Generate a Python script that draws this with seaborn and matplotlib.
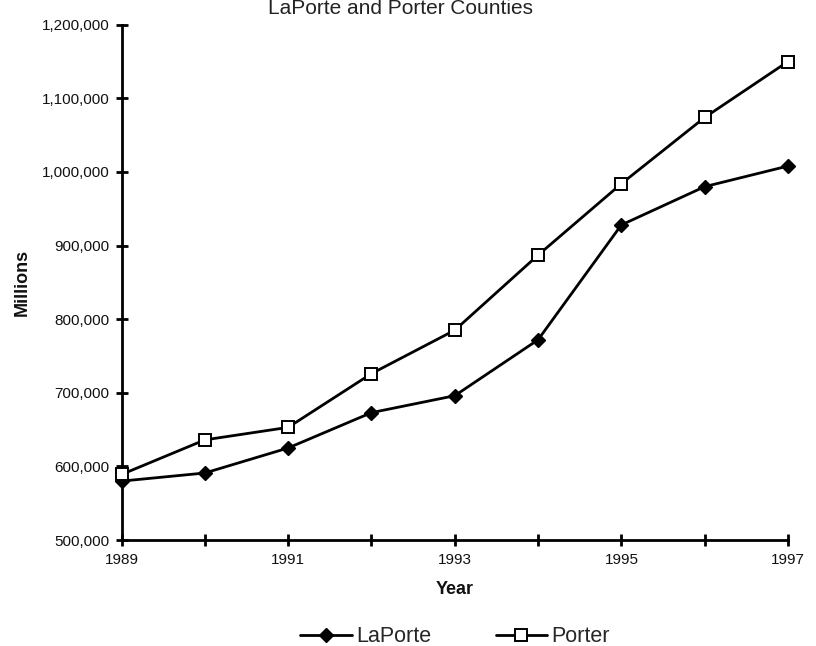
import matplotlib
matplotlib.use("Agg")
import matplotlib.pyplot as plt
from matplotlib.ticker import FuncFormatter, MultipleLocator, FixedLocator
import seaborn as sns
import pandas as pd

years = [1989, 1990, 1991, 1992, 1993, 1994, 1995, 1996, 1997]
laporte = [580000, 591000, 625000, 673000, 696000, 772000, 928000, 980000, 1008000]
porter = [589000, 636000, 653000, 726000, 785000, 887000, 984000, 1074000, 1150000]
title = "LaPorte and Porter Counties"
series_names = ["LaPorte", "Porter"]

sns.set_style("white")
plt.rcParams["font.family"] = ["Liberation Sans", "DejaVu Sans"]

df = pd.DataFrame({"Year": years, "LaPorte": laporte, "Porter": porter})

fig = plt.figure(figsize=(8.16, 6.46), dpi=100)
ax = fig.add_axes([121.5 / 816, 1 - 540 / 646, (788 - 121.5) / 816, (540 - 24.7) / 646])

sns.lineplot(data=df, x="Year", y="LaPorte", ax=ax, color="black", linewidth=2.0,
             marker="D", markersize=7.0, markerfacecolor="black", markeredgecolor="black",
             markeredgewidth=1.0, label=series_names[0], clip_on=False, zorder=3)
sns.lineplot(data=df, x="Year", y="Porter", ax=ax, color="black", linewidth=2.0,
             marker="s", markersize=8.0, markerfacecolor="white", markeredgecolor="black",
             markeredgewidth=1.4, label=series_names[1], clip_on=False, zorder=4)

for line, fc in zip(ax.lines, ["black", "white"]):
    line.set_markerfacecolor(fc)
    line.set_markeredgecolor("black")

ax.set_xlim(1989, 1997)
ax.set_ylim(500000, 1200000)
ax.xaxis.set_major_locator(FixedLocator(years[::2]))
ax.xaxis.set_minor_locator(FixedLocator(years[1::2]))
ax.yaxis.set_major_locator(MultipleLocator(100000))
ax.xaxis.set_major_formatter(FuncFormatter(lambda v, p: f"{int(round(v))}"))
ax.yaxis.set_major_formatter(FuncFormatter(lambda v, p: f"{int(round(v)):,}"))

for s in ["top", "right"]:
    ax.spines[s].set_visible(False)
for s in ["left", "bottom"]:
    ax.spines[s].set_linewidth(2.0)
    ax.spines[s].set_color("black")

ax.tick_params(axis="both", which="both", direction="inout", length=9, width=2.0,
               color="black", labelsize=11, labelcolor="#111111",
               bottom=True, left=True, top=False, right=False)
ax.tick_params(axis="x", which="both", pad=5)
ax.tick_params(axis="y", which="both", pad=4)

ax.set_xlabel("Year", fontsize=13, fontweight="bold", color="#111111")
ax.set_ylabel("Millions", fontsize=13, fontweight="bold", color="#111111")
ax.xaxis.set_label_coords(0.5, (540 - 590) / 515.3)
ax.xaxis.label.set_va("center")
ax.yaxis.set_label_coords((22 - 121.5) / 666.5, 0.5)
ax.yaxis.label.set_va("center")

fig.text(401 / 816, 1 - 9 / 646, title, ha="center", va="center", fontsize=15, color="#222222")

handles, labels = ax.get_legend_handles_labels()
if ax.get_legend() is not None:
    ax.get_legend().remove()
fig.legend(handles, labels, loc="center", bbox_to_anchor=(455 / 816, 1 - 637 / 646),
           ncol=2, frameon=False, fontsize=15.5, handlelength=2.4, handletextpad=0.2,
           columnspacing=3.0, borderaxespad=0, borderpad=0)

fig.savefig("out.png", dpi=100)
